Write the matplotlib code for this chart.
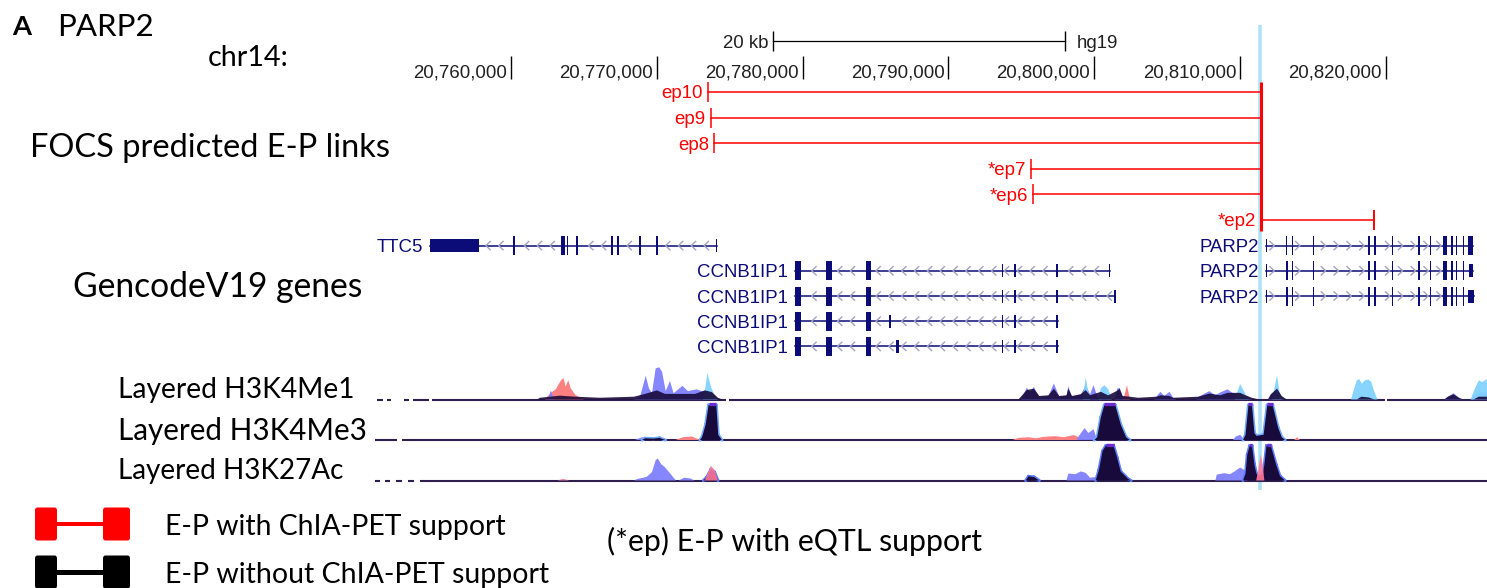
import numpy as np
import matplotlib
matplotlib.use("Agg")
import matplotlib.pyplot as plt
from matplotlib.patches import Rectangle, FancyBboxPatch

# ---------------------------------------------------------------- data
CHROM_LABEL = "chr14:"
ASSEMBLY = "hg19"
RULER_TICKS_BP = [20760000, 20770000, 20780000, 20790000, 20800000, 20810000, 20820000]
SCALE_BAR_KB = [20778.0, 20798.0]
SCALE_BAR_LABEL = "20 kb"
HIGHLIGHT_KB = 20811.37

EP_LABELS = ["ep10", "ep9", "ep8", "*ep7", "*ep6", "*ep2"]
EP_ENHANCER_KB = [20773.52, 20773.70, 20773.92, 20795.65, 20795.83, 20819.20]
EP_PROMOTER_KB = 20811.40

TRANSCRIPT_NAMES = ["TTC5", "CCNB1IP1", "CCNB1IP1", "CCNB1IP1", "CCNB1IP1",
                    "PARP2", "PARP2", "PARP2"]
TRANSCRIPT_STRANDS = ["-", "-", "-", "-", "-", "+", "+", "+"]
TRANSCRIPT_ROWS = [0, 1, 2, 3, 4, 0, 1, 2]
TTC5_EXONS = [(20754.47, 20757.84, "utr"), (20760.14, 20760.30, "cds"),
              (20763.45, 20763.72, "cds"), (20763.84, 20763.95, "cds"),
              (20764.49, 20764.60, "cds"), (20766.89, 20767.00, "cds"),
              (20767.29, 20767.40, "cds"), (20768.76, 20768.95, "cds"),
              (20769.94, 20770.06, "cds"), (20774.06, 20774.16, "utr")]
CCNB1IP1_A_EXONS = [(20779.45, 20779.92, "cds"), (20781.58, 20782.00, "cds"),
                    (20784.38, 20784.70, "cds"), (20793.64, 20793.72, "utr"),
                    (20794.52, 20794.60, "utr"), (20797.35, 20797.49, "utr"),
                    (20800.98, 20801.06, "utr")]
CCNB1IP1_B_EXONS = [(20779.45, 20779.92, "cds"), (20781.58, 20782.00, "cds"),
                    (20784.38, 20784.70, "cds"), (20793.64, 20793.72, "utr"),
                    (20794.52, 20794.60, "utr"), (20797.35, 20797.49, "utr"),
                    (20801.37, 20801.45, "utr")]
CCNB1IP1_C_EXONS = [(20779.45, 20779.92, "cds"), (20781.58, 20782.00, "cds"),
                    (20784.38, 20784.70, "cds"), (20785.95, 20786.04, "utr"),
                    (20793.64, 20793.72, "utr"), (20794.52, 20794.60, "utr"),
                    (20797.35, 20797.49, "utr")]
CCNB1IP1_D_EXONS = [(20779.45, 20779.92, "cds"), (20781.58, 20782.00, "cds"),
                    (20784.38, 20784.70, "cds"), (20786.40, 20786.62, "utr"),
                    (20793.64, 20793.72, "utr"), (20794.52, 20794.60, "utr"),
                    (20797.35, 20797.49, "utr")]
PARP2_A_EXONS = [(20811.74, 20811.84, "utr"), (20813.11, 20813.18, "cds"),
                 (20813.54, 20813.60, "cds"), (20814.98, 20815.04, "cds"),
                 (20818.76, 20818.82, "cds"), (20819.17, 20819.23, "cds"),
                 (20820.40, 20820.46, "cds"), (20822.22, 20822.34, "cds"),
                 (20822.99, 20823.05, "cds"), (20823.90, 20824.16, "cds"),
                 (20824.47, 20824.53, "cds"), (20824.77, 20824.83, "cds"),
                 (20825.27, 20825.33, "cds"), (20825.62, 20825.94, "cds")]
PARP2_B_EXONS = [(20811.74, 20811.84, "utr"), (20813.11, 20813.30, "cds"),
                 (20813.54, 20813.60, "cds"), (20814.98, 20815.04, "cds"),
                 (20818.76, 20818.82, "cds"), (20819.17, 20819.23, "cds"),
                 (20820.40, 20820.46, "cds"), (20822.22, 20822.34, "cds"),
                 (20822.99, 20823.05, "cds"), (20823.90, 20824.16, "cds"),
                 (20824.47, 20824.53, "cds"), (20824.77, 20824.83, "cds"),
                 (20825.27, 20825.33, "cds"), (20825.70, 20825.98, "utr")]
PARP2_C_EXONS = [(20811.74, 20811.84, "utr"), (20813.11, 20813.30, "cds"),
                 (20813.54, 20813.60, "cds"), (20814.98, 20815.04, "cds"),
                 (20818.76, 20818.82, "cds"), (20819.17, 20819.23, "cds"),
                 (20820.40, 20820.46, "cds"), (20822.22, 20822.34, "cds"),
                 (20822.99, 20823.05, "cds"), (20823.90, 20824.16, "cds"),
                 (20824.47, 20824.53, "cds"), (20824.77, 20824.83, "cds"),
                 (20825.27, 20825.33, "cds"), (20825.60, 20826.04, "utr")]
TRANSCRIPT_EXONS = [TTC5_EXONS, CCNB1IP1_A_EXONS, CCNB1IP1_B_EXONS, CCNB1IP1_C_EXONS,
                    CCNB1IP1_D_EXONS, PARP2_A_EXONS, PARP2_B_EXONS, PARP2_C_EXONS]

TRACK_LABELS = ["Layered H3K4Me1", "Layered H3K4Me3", "Layered H3K27Ac"]

# signal (kb, % of track view range); values above 100 are clipped
ME1_RED = [(20762.34, 0), (20762.71, 18), (20763.08, 29), (20763.44, 55), (20763.62, 61),
           (20763.76, 37), (20763.94, 55), (20764.11, 32), (20764.43, 13), (20764.79, 5),
           (20765.02, 0), (20802.00, 0), (20802.24, 41), (20802.45, 0)]
ME1_BLUE = [(20762.55, 0), (20762.75, 26), (20762.95, 0),
            (20768.45, 0), (20768.86, 8), (20769.25, 68), (20769.47, 32), (20769.68, 18),
            (20769.93, 89), (20770.18, 92), (20770.37, 79), (20770.62, 24), (20770.91, 53),
            (20771.16, 18), (20771.77, 39), (20772.14, 24), (20772.75, 29), (20773.11, 24),
            (20773.45, 26), (20773.97, 8), (20774.20, 0),
            (20795.00, 0), (20795.37, 34), (20795.60, 20), (20795.86, 36), (20796.23, 5),
            (20796.86, 10), (20797.23, 46), (20797.60, 8), (20798.10, 10), (20798.22, 38),
            (20798.47, 8), (20799.08, 15), (20799.41, 40), (20799.71, 15), (20799.95, 41),
            (20800.20, 10), (20800.40, 0),
            (20801.40, 0), (20801.57, 31), (20801.74, 33), (20801.94, 10), (20802.10, 0),
            (20804.10, 0), (20804.29, 10), (20804.54, 22), (20804.80, 10), (20805.16, 22),
            (20805.41, 5), (20805.60, 0),
            (20807.00, 0), (20807.15, 8), (20807.89, 24), (20808.30, 12), (20808.63, 20),
            (20809.13, 29), (20809.62, 15), (20810.37, 10), (20810.80, 0),
            (20811.95, 0), (20812.10, 10), (20812.53, 34), (20812.85, 5), (20813.00, 0),
            (20824.00, 0), (20824.25, 8), (20824.63, 18), (20825.00, 5), (20825.20, 0),
            (20825.80, 0), (20825.98, 10), (20826.36, 20), (20826.92, 20)]
ME1_CYAN = [(20773.18, 0), (20773.31, 26), (20773.48, 76), (20773.59, 58), (20773.72, 37),
            (20773.97, 11), (20774.14, 0),
            (20799.20, 0), (20799.41, 63), (20799.60, 20), (20799.71, 0),
            (20800.30, 0), (20800.45, 32), (20800.69, 41), (20800.95, 30), (20801.20, 0),
            (20809.62, 0), (20810.00, 44), (20810.37, 15), (20810.60, 0),
            (20812.20, 0), (20812.53, 69), (20812.70, 20), (20812.85, 0),
            (20817.60, 0), (20817.81, 30), (20818.00, 55), (20818.18, 58), (20818.35, 45),
            (20818.55, 55), (20818.80, 57), (20819.00, 50), (20819.17, 25), (20819.42, 0),
            (20825.80, 0), (20825.98, 20), (20826.36, 55), (20826.60, 50), (20826.92, 58)]
ME1_DARK = [(20761.80, 0), (20762.00, 5), (20763.37, 11), (20764.40, 8), (20766.12, 5),
            (20768.45, 8), (20769.20, 16), (20770.02, 26), (20770.57, 16), (20771.60, 16),
            (20772.63, 16), (20773.31, 26), (20773.79, 21), (20774.20, 5), (20774.50, 0),
            (20794.80, 0), (20795.37, 27), (20795.86, 31), (20796.23, 10), (20796.86, 12),
            (20797.23, 31), (20797.60, 10), (20798.10, 12), (20798.22, 31), (20798.47, 10),
            (20799.08, 15), (20799.41, 27), (20799.71, 12), (20800.45, 22), (20800.95, 12),
            (20801.57, 25), (20801.74, 31), (20801.94, 10), (20802.44, 8), (20803.00, 5),
            (20804.29, 8), (20804.54, 12), (20805.16, 10), (20805.41, 5), (20807.15, 8),
            (20807.89, 17), (20808.63, 12), (20809.13, 19), (20810.00, 19), (20810.37, 12),
            (20810.80, 5), (20811.30, 0),
            (20811.90, 0), (20812.10, 15), (20812.53, 31), (20812.85, 10), (20813.20, 0),
            (20818.00, 0), (20818.30, 8), (20818.80, 6), (20819.20, 0),
            (20824.00, 0), (20824.25, 8), (20824.63, 15), (20825.00, 5), (20825.30, 0),
            (20826.00, 0), (20826.36, 8), (20826.92, 8)]

ME3_RED = [(20771.30, 0), (20771.80, 8), (20772.40, 10), (20773.00, 0),
           (20794.40, 0), (20794.80, 6), (20795.50, 8), (20796.00, 5), (20796.50, 9),
           (20797.30, 11), (20797.90, 8), (20798.60, 14), (20798.95, 8), (20799.10, 0),
           (20813.70, 0), (20813.90, 8), (20814.10, 0)]
ME3_BLUE = [(20768.50, 0), (20769.00, 8), (20769.50, 0),
            (20798.80, 0), (20798.95, 12), (20799.34, 34), (20799.60, 20), (20799.95, 31),
            (20800.20, 0),
            (20809.50, 0), (20809.70, 10), (20810.00, 15), (20810.30, 0)]
ME3_DARK = [(20769.00, 0), (20769.20, 5), (20769.80, 4), (20770.20, 6), (20770.60, 0),
            (20772.97, 0), (20773.11, 8), (20773.36, 44), (20773.56, 120), (20774.09, 120),
            (20774.22, 15), (20774.47, 0),
            (20800.00, 0), (20800.20, 8), (20800.45, 65), (20800.69, 120), (20801.44, 120),
            (20801.81, 45), (20802.18, 8), (20802.44, 0),
            (20810.20, 0), (20810.37, 15), (20810.57, 120), (20810.81, 120), (20810.98, 20),
            (20811.11, 12), (20811.61, 15), (20811.86, 120), (20812.23, 120), (20812.60, 36),
            (20812.85, 8), (20813.08, 0)]

K27_RED = [(20763.20, 0), (20763.60, 5), (20764.00, 0),
           (20773.30, 0), (20773.50, 20), (20773.72, 42), (20773.97, 30), (20774.20, 0),
           (20811.10, 0), (20811.24, 30), (20811.41, 74), (20811.55, 45), (20811.66, 0)]
K27_BLUE = [(20768.45, 0), (20768.72, 5), (20769.30, 10), (20769.68, 24), (20769.93, 58),
            (20770.08, 63), (20770.30, 47), (20770.54, 39), (20770.91, 21), (20771.16, 8),
            (20771.33, 0), (20771.50, 0), (20771.90, 8), (20772.30, 6), (20772.60, 0),
            (20798.10, 0), (20798.22, 20), (20798.70, 18), (20799.08, 26), (20799.41, 22),
            (20799.71, 8), (20800.00, 10), (20800.20, 0),
            (20808.30, 0), (20808.40, 17), (20808.90, 21), (20809.30, 18), (20809.62, 26),
            (20810.00, 37), (20810.30, 30), (20810.50, 0)]
K27_DARK = [(20773.20, 0), (20773.45, 10), (20773.72, 32), (20773.97, 24), (20774.20, 0),
            (20795.30, 0), (20795.49, 12), (20795.86, 10), (20796.23, 0),
            (20800.10, 0), (20800.32, 30), (20800.57, 84), (20800.80, 120), (20801.32, 120),
            (20801.56, 66), (20801.81, 26), (20802.31, 5), (20802.52, 0),
            (20810.20, 0), (20810.37, 20), (20810.49, 74), (20810.66, 120), (20810.81, 120),
            (20810.98, 45), (20811.11, 20), (20811.30, 12), (20811.55, 20), (20811.66, 45),
            (20811.81, 120), (20812.10, 120), (20812.47, 45), (20812.73, 13), (20813.08, 0)]

ME1_COVERAGE = [(20750.83, 20751.24), (20751.51, 20751.79), (20752.68, 20753.02),
                (20753.30, 20754.39), (20754.60, 20774.75), (20774.96, 20819.93),
                (20820.07, 20826.92)]
ME3_COVERAGE = [(20750.69, 20752.20), (20752.54, 20826.92)]
K27_COVERAGE = [(20750.69, 20751.03), (20751.37, 20751.72), (20752.13, 20752.54),
                (20752.95, 20753.38), (20753.80, 20826.92)]

LEGEND_LABELS = ["E-P with ChIA-PET support", "E-P without ChIA-PET support",
                 "(*ep) E-P with eQTL support"]

# ---------------------------------------------------------------- figure
W, H = 1487, 588
fig = plt.figure(figsize=(W / 100, H / 100), dpi=100)
KB_PER_PX = 0.068555
x_left = 20760 - 510.8 * KB_PER_PX
ax = fig.add_axes([0, 0, 1, 1])
ax.set_xlim(x_left, x_left + W * KB_PER_PX)
ax.set_ylim(H, 0)
ax.axis("off")
pax = fig.add_axes([0, 0, 1, 1])
pax.set_xlim(0, W)
pax.set_ylim(H, 0)
pax.axis("off")
renderer = fig.canvas.get_renderer()

UCSC_FONT = "Liberation Sans"
LABEL_FONT = "Lato"
NAVY = "#0c0c78"
RED = "#ff0000"
UCSC_SIZE = 13.4


def fit_text(s, x0, x1, base_y, weight="normal", color="black"):
    t = pax.text(x0, base_y, s, ha="left", va="baseline", fontsize=20,
                 family=LABEL_FONT, weight=weight, color=color)
    w = t.get_window_extent(renderer).width
    t.set_fontsize(20 * (x1 - x0) / w)
    return t


# panel titles and track names
fit_text("A", 12, 31, 35, weight="bold")
fit_text("PARP2", 57, 153, 36)
fit_text(CHROM_LABEL, 208, 289, 66)
fit_text("FOCS predicted E-P links", 30, 392, 157)
fit_text("GencodeV19 genes", 73, 363, 297)
for name, base, x1 in zip(TRACK_LABELS, [398, 440, 479], [354, 366, 343]):
    fit_text(name, 118, x1, base)

# highlighted promoter position
ax.plot([HIGHLIGHT_KB, HIGHLIGHT_KB], [25, 490], color="#aee3f7", lw=2.6,
        zorder=0.5, solid_capstyle="butt")

# scale bar
sb_y = 41
ax.plot(SCALE_BAR_KB, [sb_y, sb_y], color="black", lw=0.9)
ax.vlines(SCALE_BAR_KB, sb_y - 10, sb_y + 10, color="black", lw=1.0)
ax.text(SCALE_BAR_KB[0] - 5 * KB_PER_PX, sb_y + 6.5, SCALE_BAR_LABEL, ha="right",
        va="baseline", family=UCSC_FONT, fontsize=UCSC_SIZE, color="#202020")
ax.text(SCALE_BAR_KB[1] + 12 * KB_PER_PX, sb_y + 6.5, ASSEMBLY, ha="left",
        va="baseline", family=UCSC_FONT, fontsize=UCSC_SIZE, color="#202020")

# base position ruler
for bp in RULER_TICKS_BP:
    kb = bp / 1000.0
    ax.vlines(kb, 56, 79, color="black", lw=1.0)
    ax.text(kb - 4 * KB_PER_PX, 77.5, f"{bp:,}", ha="right", va="baseline",
            family=UCSC_FONT, fontsize=UCSC_SIZE, color="#202020")

# predicted enhancer-promoter links
ep_y0, ep_dy = 92.0, 25.6
ep_rows = [ep_y0 + i * ep_dy for i in range(len(EP_LABELS))]
for lab, enh, y in zip(EP_LABELS, EP_ENHANCER_KB, ep_rows):
    lo, hi = min(enh, EP_PROMOTER_KB), max(enh, EP_PROMOTER_KB)
    ax.plot([lo, hi], [y, y], color=RED, lw=1.1, zorder=4)
    ax.vlines(enh, y - 10, y + 10, color=RED, lw=1.4 if enh > EP_PROMOTER_KB else 1.1,
              zorder=4)
    ax.text(lo - 5 * KB_PER_PX, y + 6.4, lab, ha="right", va="baseline",
            family=UCSC_FONT, fontsize=UCSC_SIZE, color=RED)
ax.vlines(EP_PROMOTER_KB, ep_rows[0] - 10, ep_rows[-1] + 11, color=RED, lw=2.2, zorder=5)

# gene models
gene_y0, gene_dy = 245.6, 25.2
CDS_H, UTR_H = 19.0, 13.0
ARROW = "#a3a3c2"
min_w = 1.6 * KB_PER_PX
for name, strand, row, exons in zip(TRANSCRIPT_NAMES, TRANSCRIPT_STRANDS,
                                     TRANSCRIPT_ROWS, TRANSCRIPT_EXONS):
    y = gene_y0 + row * gene_dy
    start, end = exons[0][0], exons[-1][1]
    ax.plot([start, end], [y, y], color=NAVY, lw=1.1, zorder=3)
    # strand chevrons along the introns
    for cx in np.arange(start + 0.45, end - 0.2, 0.88):
        if any(a - 0.22 < cx < b + 0.22 for a, b, _ in exons):
            continue
        w, h = 2.2 * KB_PER_PX, 4.2
        xs = [cx + w, cx - w, cx + w] if strand == "-" else [cx - w, cx + w, cx - w]
        ax.plot(xs, [y - h, y, y + h], color=ARROW, lw=1.0, zorder=3.5)
    for a, b, kind in exons:
        hh = CDS_H if kind == "cds" else UTR_H
        ax.add_patch(Rectangle((a, y - hh / 2), max(b - a, min_w), hh, facecolor=NAVY,
                               edgecolor="none", zorder=4))
    ax.text(start - 7 * KB_PER_PX, y + 6.6, name, ha="right", va="baseline",
            family=UCSC_FONT, fontsize=UCSC_SIZE, color=NAVY)

# layered histone tracks
TRACK_H = 35.0
CAP = "#6e2bd0"
BLUE, CYAN, SALMON, DARK = "#8080ff", "#80d2ff", "#ff8080", "#180a3a"


def layer(points, base, color, alpha=1.0, z=3.0, halo=None):
    xs = np.array([p[0] for p in points])
    vs = np.array([p[1] for p in points], dtype=float)
    ys = base - np.clip(vs, 0, 100) / 100.0 * TRACK_H
    if halo is not None:
        # outline only along the raised parts of the profile
        hx, hy = [], []
        for i in range(len(vs) - 1):
            if vs[i] > 0 or vs[i + 1] > 0:
                hx += [xs[i], xs[i + 1], np.nan]
                hy += [ys[i], ys[i + 1], np.nan]
        ax.plot(hx, hy, color=halo, lw=2.2, zorder=z - 0.05, solid_capstyle="round")
    ax.fill_between(xs, base, ys, facecolor=color, edgecolor="none", alpha=alpha,
                    zorder=z)
    for i in range(len(vs) - 1):
        if vs[i] >= 100 and vs[i + 1] >= 100:
            ax.plot([xs[i], xs[i + 1]], [base - TRACK_H - 1, base - TRACK_H - 1],
                    color=CAP, lw=2.4, solid_capstyle="butt", zorder=z + 1)


def coverage(segments, base):
    for a, b in segments:
        ax.plot([a, b], [base, base], color="#2e1f4f", lw=1.5, zorder=2.5,
                solid_capstyle="butt")


me1_base, me3_base, k27_base = 399.5, 440.0, 480.5
coverage(ME1_COVERAGE, me1_base)
layer(ME1_RED, me1_base, SALMON, z=3.0)
layer(ME1_BLUE, me1_base, BLUE, alpha=0.95, z=3.1)
layer(ME1_CYAN, me1_base, CYAN, alpha=0.95, z=3.2)
layer(ME1_DARK, me1_base, DARK, alpha=0.9, z=3.3)

coverage(ME3_COVERAGE, me3_base)
layer(ME3_RED, me3_base, SALMON, z=3.0)
layer(ME3_BLUE, me3_base, BLUE, alpha=0.95, z=3.1)
layer(ME3_DARK, me3_base, DARK, z=3.3, halo="#6fa8ff")

coverage(K27_COVERAGE, k27_base)
layer(K27_BLUE, k27_base, BLUE, alpha=0.95, z=3.1)
layer(K27_DARK, k27_base, DARK, z=3.3, halo="#5f7dff")
layer(K27_RED, k27_base, "#ff7a9a", alpha=0.9, z=3.4)

# legend
for color, top, bar_h in [(RED, 507.5, 4.0), ("black", 555.5, 5.0)]:
    for x0, w in [(35, 22), (103, 27)]:
        pax.add_patch(FancyBboxPatch((x0, top), w, 33, boxstyle="round,pad=0,rounding_size=2.5",
                                     facecolor=color, edgecolor="none"))
    pax.add_patch(Rectangle((56, top + 16.5 - bar_h / 2), 48, bar_h, facecolor=color,
                            edgecolor="none"))
fit_text(LEGEND_LABELS[0], 165, 505, 535)
fit_text(LEGEND_LABELS[1], 165, 550, 583)
fit_text(LEGEND_LABELS[2], 607, 982, 551)

fig.savefig("out.png", dpi=100, facecolor="white")
